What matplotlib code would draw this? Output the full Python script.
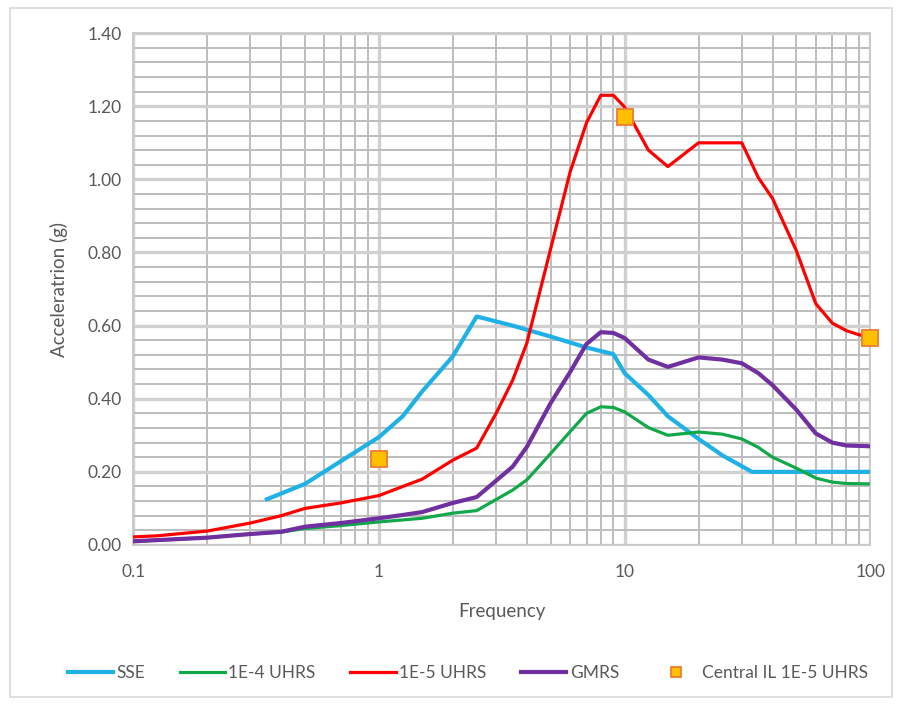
import numpy as np
import matplotlib
matplotlib.use('Agg')
import matplotlib.pyplot as plt
from matplotlib.ticker import LogLocator, MultipleLocator, FixedLocator, FixedFormatter
from matplotlib.patches import Rectangle

plt.rcParams['font.family'] = ['Lato', 'DejaVu Sans']

# --- response spectra (freq in Hz, acceleration in g) ---
sse_f = [0.35, 0.5, 1, 1.25, 1.5, 2, 2.5, 3.5, 5, 7, 9, 10, 12.5, 15, 20, 25, 33, 50, 100]
sse_a = [0.125, 0.167, 0.295, 0.352, 0.42, 0.516, 0.625, 0.60, 0.57, 0.54, 0.522, 0.47, 0.41, 0.352, 0.29, 0.245, 0.20, 0.20, 0.20]

uhrs4_f = [0.1, 0.2, 0.3, 0.4, 0.5, 0.7, 1, 1.5, 2, 2.5, 3.5, 4, 5, 6, 7, 8, 9, 10, 12.5, 15, 20, 25, 30, 35, 40, 50, 60, 70, 80, 100]
uhrs4_a = [0.01, 0.02, 0.03, 0.035, 0.045, 0.053, 0.063, 0.073, 0.087, 0.094, 0.15, 0.178, 0.25, 0.31, 0.36, 0.378, 0.376, 0.364, 0.321, 0.30, 0.309, 0.303, 0.29, 0.267, 0.24, 0.21, 0.183, 0.172, 0.168, 0.167]

uhrs5_f = [0.1, 0.125, 0.2, 0.3, 0.4, 0.5, 0.7, 1, 1.25, 1.5, 2, 2.5, 3, 3.5, 4, 5, 6, 7, 8, 9, 10, 12.5, 15, 20, 30, 35, 40, 50, 60, 70, 80, 90, 100]
uhrs5_a = [0.022, 0.025, 0.038, 0.06, 0.08, 0.10, 0.115, 0.135, 0.16, 0.18, 0.232, 0.265, 0.36, 0.45, 0.552, 0.81, 1.02, 1.155, 1.23, 1.23, 1.198, 1.08, 1.035, 1.10, 1.10, 1.005, 0.948, 0.805, 0.66, 0.607, 0.586, 0.575, 0.568]

gmrs_f = [0.1, 0.2, 0.3, 0.4, 0.5, 0.7, 1, 1.25, 1.5, 2, 2.5, 3.5, 4, 5, 6, 7, 8, 9, 10, 12.5, 15, 20, 25, 30, 35, 40, 50, 60, 70, 80, 100]
gmrs_a = [0.01, 0.02, 0.03, 0.036, 0.05, 0.06, 0.073, 0.082, 0.09, 0.115, 0.131, 0.214, 0.268, 0.388, 0.473, 0.55, 0.582, 0.58, 0.566, 0.507, 0.487, 0.513, 0.507, 0.497, 0.47, 0.437, 0.37, 0.305, 0.28, 0.272, 0.27]

il_f = [1, 10, 100]
il_a = [0.236, 1.17, 0.566]

fig = plt.figure(figsize=(9, 7.05), dpi=100)
fig.patches.append(Rectangle((0.011, 0.012), 0.98, 0.977, transform=fig.transFigure,
                             fill=False, edgecolor='#d9d9d9', lw=1.2))
ax = fig.add_axes([0.148, 0.227, 0.819, 0.726])

ax.plot(sse_f, sse_a, color='#1fb1e6', lw=3.0, label='SSE', zorder=3)
ax.plot(uhrs4_f, uhrs4_a, color='#12a84a', lw=2.3, label='1E-4 UHRS', zorder=3)
ax.plot(uhrs5_f, uhrs5_a, color='#ff0000', lw=2.3, label='1E-5 UHRS', zorder=4)
ax.plot(gmrs_f, gmrs_a, color='#7030a0', lw=3.0, label='GMRS', zorder=3)
ax.plot(il_f, il_a, ls='none', marker='s', ms=11.5, mfc='#ffc000', mec='#ed7d31', mew=1.3,
        label='Central IL 1E-5 UHRS', zorder=5, clip_on=False)

ax.set_xscale('log')
ax.set_xlim(0.1, 100)
ax.set_ylim(0, 1.4)
ax.xaxis.set_major_locator(FixedLocator([0.1, 1, 10, 100]))
ax.xaxis.set_major_formatter(FixedFormatter(['0.1', '1', '10', '100']))
ax.xaxis.set_minor_locator(LogLocator(base=10, subs=np.arange(2, 10)))
ax.xaxis.set_minor_formatter(plt.NullFormatter())
ax.yaxis.set_major_locator(MultipleLocator(0.2))
ax.yaxis.set_minor_locator(MultipleLocator(0.04))
ax.yaxis.set_major_formatter(plt.FuncFormatter(lambda v, p: f'{v:.2f}'))

ax.grid(which='major', color='#d0d0d0', lw=2.4)
ax.grid(which='minor', color='#bdbdbd', lw=1.4)
ax.set_axisbelow(True)
ax.tick_params(which='both', length=0, labelsize=12.5, colors='#595959', pad=8)
ax.tick_params(axis='x', pad=14)
for s in ax.spines.values():
    s.set_color('#c8c8c8')
    s.set_linewidth(1.3)

ax.set_xlabel('Frequency', fontsize=13.5, color='#595959', labelpad=16)
ax.set_ylabel('Acceleratrion (g)', fontsize=13.5, color='#595959', labelpad=14)

fig.legend(loc='center', bbox_to_anchor=(0.52, 0.045), ncol=5, frameon=False,
           fontsize=12.5, labelcolor='#595959', handlelength=2.6, handletextpad=0.2,
           columnspacing=2.0, markerscale=0.6)

fig.savefig('out.png', dpi=100)
